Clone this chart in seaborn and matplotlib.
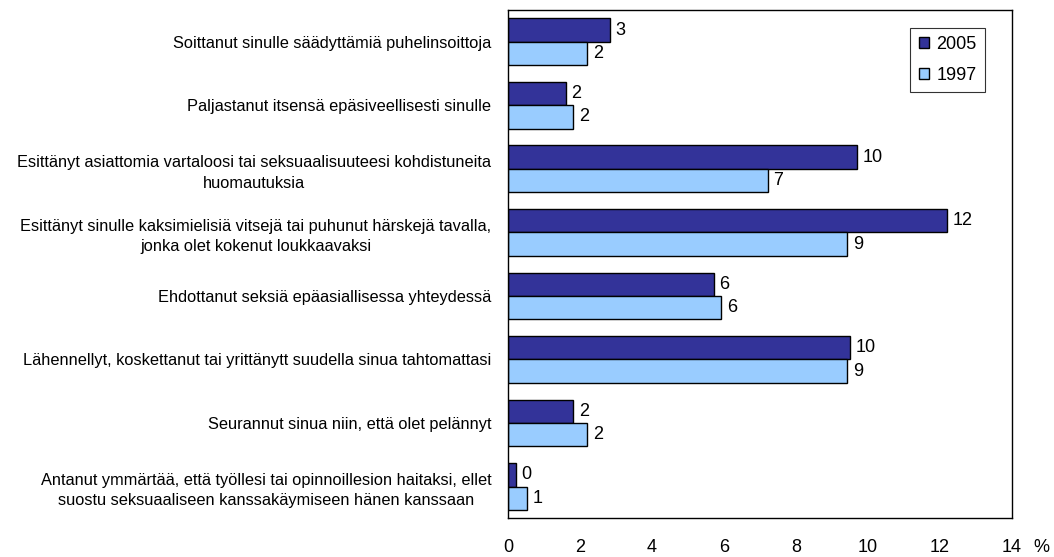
import matplotlib
matplotlib.use("Agg")
import matplotlib.pyplot as plt
import seaborn as sns
import pandas as pd
import numpy as np
from matplotlib.ticker import FixedLocator

categories = [
    "Soittanut sinulle säädyttämiä puhelinsoittoja",
    "Paljastanut itsensä epäsiveellisesti sinulle",
    "Esittänyt asiattomia vartaloosi tai seksuaalisuuteesi kohdistuneita\nhuomautuksia",
    "Esittänyt sinulle kaksimielisiä vitsejä tai puhunut härskejä tavalla,\njonka olet kokenut loukkaavaksi",
    "Ehdottanut seksiä epäasiallisessa yhteydessä",
    "Lähennellyt, koskettanut tai yrittänytt suudella sinua tahtomattasi",
    "Seurannut sinua niin, että olet pelännyt",
    "Antanut ymmärtää, että työllesi tai opinnoillesion haitaksi, ellet\nsuostu seksuaaliseen kanssakäymiseen hänen kanssaan",
]
values_2005 = [2.82, 1.61, 9.69, 12.2, 5.71, 9.51, 1.81, 0.21]
values_1997 = [2.20, 1.81, 7.22, 9.42, 5.92, 9.42, 2.20, 0.52]
series = ["2005", "1997"]
colors = ["#333399", "#99CCFF"]
x_ticks = [0, 2, 4, 6, 8, 10, 12, 14]

df = pd.DataFrame({
    "kategoria": categories * 2,
    "vuosi": [series[0]] * len(categories) + [series[1]] * len(categories),
    "arvo": values_2005 + values_1997,
})

sns.set_style("white")
plt.rcParams["font.family"] = ["Liberation Sans", "DejaVu Sans"]
plt.rcParams["text.color"] = "black"
plt.rcParams["xtick.color"] = "black"
plt.rcParams["ytick.color"] = "black"
plt.rcParams["xtick.labelcolor"] = "black"
plt.rcParams["ytick.labelcolor"] = "black"

W, H = 1054, 557
L, R, T, B = 508, 1012, 10, 518.3
fig = plt.figure(figsize=(W / 100, H / 100), dpi=100)
ax = fig.add_axes([L / W, 1 - B / H, (R - L) / W, (B - T) / H])

sns.barplot(data=df, y="kategoria", x="arvo", hue="vuosi", hue_order=series,
            order=categories, palette=colors, saturation=1, orient="h", width=0.735,
            edgecolor="black", linewidth=1.0, ax=ax, legend=True)

for cont in ax.containers:
    ax.bar_label(cont, fmt="%.0f", padding=4, fontsize=13, color="black")

ax.set_xlim(0, 14)
ax.set_ylim(len(categories) - 0.5, -0.5)
ax.set_xticks(x_ticks)
ax.set_xticklabels([str(t) for t in x_ticks], fontsize=13)
ax.tick_params(axis="x", direction="out", length=4, width=1.0, color="black",
               labelcolor="black", pad=11)
ax.tick_params(axis="y", which="major", length=0, pad=12, labelsize=11.8, labelcolor="black")
ax.yaxis.set_minor_locator(FixedLocator(np.arange(-0.5, len(categories), 1.0)))
ax.tick_params(axis="y", which="minor", direction="out", length=5, width=1.0, color="black")
for lab in ax.get_yticklabels():
    lab.set_multialignment("center")
    lab.set_linespacing(1.45)
ax.set_xlabel("")
ax.set_ylabel("")
for s in ax.spines.values():
    s.set_visible(True)
    s.set_color("black")
    s.set_linewidth(1.0)

ax.annotate("%", xy=(1.0, 0), xycoords="axes fraction", xytext=(15.5, -15),
            textcoords="offset points", ha="left", va="top", fontsize=13, color="black")

handles, labels = ax.get_legend_handles_labels()
leg = ax.legend(handles, labels, loc="upper right", bbox_to_anchor=(0.9464, 0.9646),
                frameon=True, fancybox=False, edgecolor="black", fontsize=13,
                handlelength=0.6, handleheight=0.6, handletextpad=0.4,
                labelspacing=0.75, borderpad=0.45, borderaxespad=0)
leg.get_frame().set_linewidth(0.8)
for t in leg.get_texts():
    t.set_color("black")

fig.savefig("out.png", dpi=100)
